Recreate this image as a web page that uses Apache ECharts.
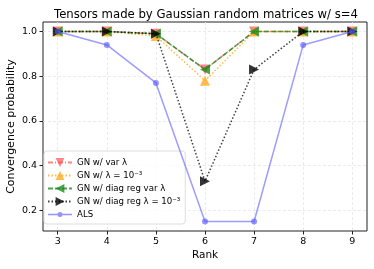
<!DOCTYPE html>
<html><head><meta charset="utf-8">
<script src="https://cdn.jsdelivr.net/npm/echarts@6/dist/echarts.min.js"></script>
<style>html,body{margin:0;padding:0;background:#fff}#c{width:374px;height:269px}</style>
</head><body><div id="c"></div>
<script>
const ranks = [3, 4, 5, 6, 7, 8, 9];
const gnVar = [1.0, 1.0, 0.99, 0.83, 1.0, 1.0, 1.0];
const gnFixed = [1.0, 1.0, 0.98, 0.78, 1.0, 1.0, 1.0];
const gnDiagVar = [1.0, 1.0, 0.99, 0.83, 1.0, 1.0, 1.0];
const gnDiagFixed = [1.0, 1.0, 0.99, 0.33, 0.83, 1.0, 1.0];
const als = [1.0, 0.94, 0.77, 0.15, 0.15, 0.94, 1.0];
const xTicks = [3, 4, 5, 6, 7, 8, 9];
const yTicks = [0.2, 0.4, 0.6, 0.8, 1.0];
const names = ['GN w/ var λ', 'GN w/ λ = 10⁻³', 'GN w/ diag reg var λ', 'GN w/ diag reg λ = 10⁻³', 'ALS'];

const font = 'DejaVu Sans';
const pair = ys => ranks.map((r, i) => [r, ys[i]]);
const chart = echarts.init(document.getElementById('c'), null, {renderer: 'canvas'});
const gridLine = {show: true, lineStyle: {color: '#e6e6e6', type: [3, 2], width: 0.8}};
const alsIcon = 'path://M0,1.75L24,1.75L24,3.25L0,3.25Z M14.5,2.5A2.5,2.5 0 1 1 9.5,2.5A2.5,2.5 0 1 1 14.5,2.5Z';
chart.setOption({
  animation: false,
  backgroundColor: '#fff',
  title: {text: 'Tensors made by Gaussian random matrices w/ s=4', left: 201, top: 4, textAlign: 'center',
    textStyle: {fontFamily: font, fontSize: 11.7, fontWeight: 'normal', color: '#000'}},
  grid: {left: 43, right: 7, top: 22, bottom: 38, outerBoundsMode: 'none', containLabel: false,
    show: true, borderColor: '#222', borderWidth: 1, backgroundColor: 'transparent'},
  xAxis: {type: 'value', min: 2.7, max: 9.3, name: 'Rank', nameLocation: 'middle', nameGap: 19, nameMoveOverlap: false,
    nameTextStyle: {fontFamily: font, fontSize: 10.5, color: '#000'},
    axisLine: {show: false},
    axisTick: {show: true, customValues: xTicks, length: 3.5, lineStyle: {color: '#222'}},
    axisLabel: {customValues: xTicks, fontFamily: font, fontSize: 9.5, color: '#000', margin: 6},
    splitLine: Object.assign({customValues: xTicks}, gridLine)},
  yAxis: {type: 'value', min: 0.1075, max: 1.0425, name: 'Convergence probability', nameLocation: 'middle', nameGap: 26, nameMoveOverlap: false,
    nameTextStyle: {fontFamily: font, fontSize: 11, color: '#000'},
    axisLine: {show: false},
    axisTick: {show: true, customValues: yTicks, length: 3.5, lineStyle: {color: '#222'}},
    axisLabel: {customValues: yTicks, fontFamily: font, fontSize: 9.5, color: '#000', margin: 6, formatter: v => v.toFixed(1)},
    splitLine: Object.assign({customValues: yTicks}, gridLine)},
  legend: {orient: 'vertical', left: 44, top: 151, itemGap: 4, itemWidth: 24, itemHeight: 11,
    padding: [7, 5, 5, 3], borderColor: '#ddd', borderWidth: 1, borderRadius: 3, backgroundColor: 'rgba(255,255,255,0.8)',
    textStyle: {fontFamily: font, fontSize: 8.6, color: '#000'},
    data: names.map((n, i) => i === 4 ? {name: n, icon: alsIcon} : {name: n})},
  series: [
    {name: names[0], type: 'line', data: pair(gnVar), symbol: 'triangle', symbolRotate: 180, symbolSize: 10,
      itemStyle: {color: 'rgba(255,80,80,0.7)'}, lineStyle: {color: 'rgba(255,80,80,0.7)', width: 1.5, type: [5, 2, 1, 2]}, z: 2},
    {name: names[1], type: 'line', data: pair(gnFixed), symbol: 'triangle', symbolSize: 10,
      itemStyle: {color: 'rgba(255,170,30,0.8)'}, lineStyle: {color: 'rgba(255,170,30,0.8)', width: 1.5, type: [1.5, 2]}, z: 3},
    {name: names[2], type: 'line', data: pair(gnDiagVar), symbol: 'triangle', symbolRotate: 90, symbolSize: 10,
      itemStyle: {color: 'rgba(30,140,30,0.8)'}, lineStyle: {color: 'rgba(30,140,30,0.8)', width: 1.5, type: [5, 2]}, z: 4},
    {name: names[3], type: 'line', data: pair(gnDiagFixed), symbol: 'triangle', symbolRotate: -90, symbolSize: 10,
      itemStyle: {color: 'rgba(0,0,0,0.8)'}, lineStyle: {color: 'rgba(0,0,0,0.75)', width: 1.5, type: [1.5, 2]}, z: 5},
    {name: names[4], type: 'line', data: pair(als), symbol: 'circle', symbolSize: 6,
      itemStyle: {color: 'rgba(90,90,255,0.65)'}, lineStyle: {color: 'rgba(90,90,255,0.6)', width: 1.5}, z: 6}
  ]
});
</script></body></html>
